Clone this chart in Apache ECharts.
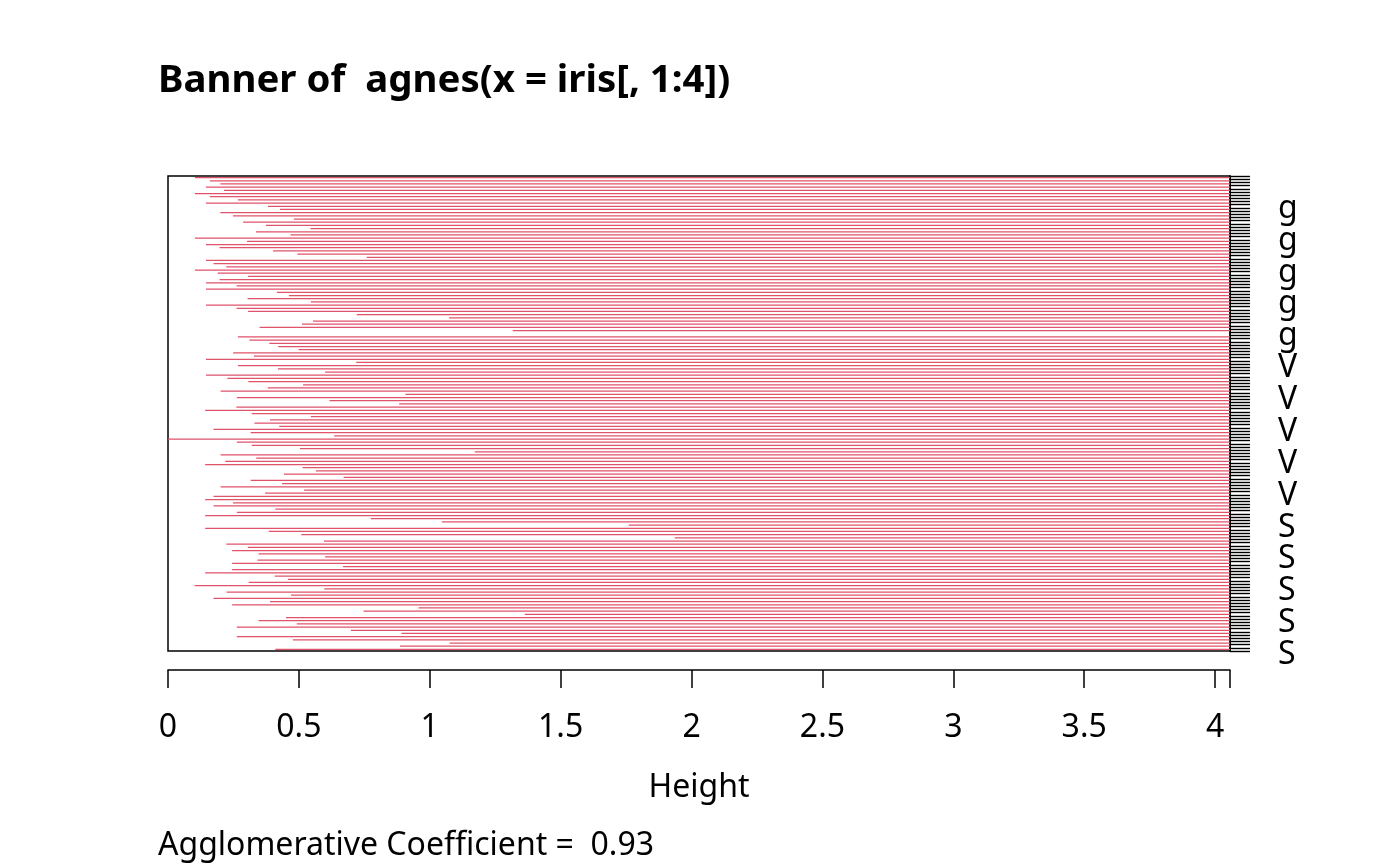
<!DOCTYPE html>
<html><head><meta charset="utf-8">
<script src="https://cdn.jsdelivr.net/npm/echarts@6/dist/echarts.min.js"></script>
<style>html,body{margin:0;padding:0;background:#fff}#c{width:1400px;height:866px}</style>
</head><body><div id="c"></div>
<script>
// Merge height of each banner bar, from the top bar (between obs 1 and 2) to the bottom one
const mergeHeight = [
  0.103, 0.160, 0.200, 0.145, 0.214, 0.103, 0.160, 0.267, 0.145, 0.382, 0.428, 0.200, 0.248, 0.481, 0.287, 0.374,
  0.544, 0.336, 0.468, 0.103, 0.302, 0.145, 0.197, 0.401, 0.494, 0.759, 0.145, 0.174, 0.223, 0.103, 0.190, 0.306,
  0.197, 0.145, 0.262, 0.145, 0.416, 0.462, 0.304, 0.546, 0.145, 0.262, 0.306, 0.721, 1.074, 0.554, 0.512, 0.350, 1.317,
  4.057,
  0.267, 0.311, 0.387, 0.421, 0.499, 0.249, 0.328, 0.145, 0.719, 0.267, 0.420, 0.600, 0.145, 0.227, 0.307, 0.516,
  0.381, 0.201, 0.907, 0.263, 0.617, 0.883, 0.261, 0.142, 0.320, 0.546, 0.390, 0.330, 0.425, 0.174, 0.316, 0.635, 0.000,
  0.263, 0.320, 0.504, 1.172, 0.201, 0.337, 0.219, 0.142, 0.514, 0.565, 0.443, 0.671, 0.316, 0.436, 0.201, 0.520, 0.371,
  0.174, 0.142, 0.248, 0.174, 0.410, 0.263, 0.142, 0.775, 1.046, 1.760, 0.142, 0.385, 0.509, 1.936, 0.596, 0.223, 0.305,
  0.245, 0.346, 0.600, 0.342, 0.245, 0.669, 0.245, 0.142, 0.408, 0.458, 0.308, 0.102, 0.597, 0.224, 0.470, 0.174, 0.390,
  0.245, 0.957, 0.747, 1.363, 0.451, 0.346, 0.492, 0.263, 0.699, 0.892, 0.263, 0.477, 1.076, 0.886, 0.410
];
// Labels shown on the right, and the observation (1-based, from top) each belongs to
const sideLabels   = ['g','g','g','g','g','V','V','V','V','V','S','S','S','S','S'];
const sideLabelObs = [10, 20, 30, 40, 50, 60, 70, 80, 90, 100, 110, 120, 130, 140, 150];
const xTickLabels  = [0, 0.5, 1, 1.5, 2, 2.5, 3, 3.5, 4];
const titleText = 'Banner of  agnes(x = iris[, 1:4])';
const subText   = 'Agglomerative Coefficient =  0.93';
const xName = 'Height';

const nObs = mergeHeight.length + 1;
const M = Math.max(...mergeHeight);
const FONT = 'Noto Sans';
const obsTicks = Array.from({length: nObs}, (_, i) => i);
const barData = mergeHeight.map((h, i) => [h, i + 0.5]);

const chart = echarts.init(document.getElementById('c'), null, {renderer: 'canvas'});
chart.setOption({
  animation: false,
  backgroundColor: '#fff',
  title: [
    {text: titleText, left: 158, top: 62, padding: 0,
     textStyle: {fontFamily: FONT, fontSize: 38.4, fontWeight: 'bold', color: '#000'}},
    {text: subText, left: 158, top: 830, padding: 0,
     textStyle: {fontFamily: FONT, fontSize: 32, fontWeight: 'normal', color: '#000'}}
  ],
  grid: {left: 168, top: 176, width: 1062, height: 475, show: true,
         borderColor: '#000', borderWidth: 1.5, backgroundColor: '#fff'},
  xAxis: {
    type: 'value', min: 0, max: M, position: 'bottom', offset: 19,
    name: xName, nameLocation: 'middle', nameGap: 102,
    nameTextStyle: {fontFamily: FONT, fontSize: 32, color: '#000'},
    axisLine: {show: true, onZero: false, lineStyle: {color: '#000', width: 1.5}},
    axisTick: {show: true, length: 18, lineStyle: {color: '#000', width: 1.5},
               customValues: xTickLabels.concat([M])},
    axisLabel: {fontFamily: FONT, fontSize: 32, color: '#000', margin: 42,
                customValues: xTickLabels, formatter: v => String(v)},
    splitLine: {show: false}
  },
  yAxis: {
    type: 'value', min: 0, max: nObs - 1, inverse: true, position: 'right',
    axisLine: {show: true, onZero: false, lineStyle: {color: '#000', width: 1.5}},
    axisTick: {show: true, length: 20, lineStyle: {color: '#000', width: 1.4},
               customValues: obsTicks},
    axisLabel: {fontFamily: FONT, fontSize: 32, color: '#000', margin: 48,
                customValues: sideLabelObs.map(o => o - 1),
                formatter: v => { const j = sideLabelObs.indexOf(Math.round(v) + 1); return j >= 0 ? '{s|' + sideLabels[j] + '}' : ''; },
                rich: {s: {fontFamily: FONT, fontSize: 32, color: '#000', padding: [8, 0, 0, 0]}}},
    splitLine: {show: false}
  },
  series: [{
    type: 'custom',
    clip: true,
    data: barData,
    renderItem: function (params, api) {
      const y = api.value(1);
      const p1 = api.coord([api.value(0), y]);
      const p2 = api.coord([M, y]);
      return {type: 'line', shape: {x1: p1[0], y1: p1[1], x2: p2[0], y2: p2[1]},
              style: {stroke: '#DF536B', lineWidth: 1.25}};
    }
  }]
});
</script></body></html>
